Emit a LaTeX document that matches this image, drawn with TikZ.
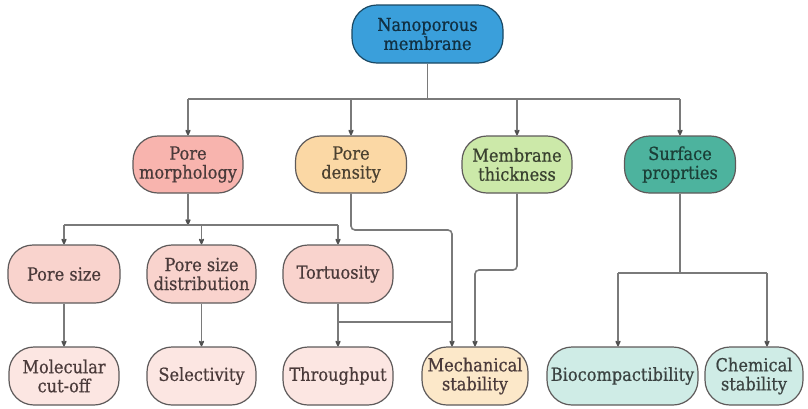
\documentclass[tikz,border=0pt]{standalone}
\usepackage{fontspec}
\setmainfont{DejaVu Serif Condensed}[FakeBold=0.6]
\usetikzlibrary{arrows.meta,calc}
\definecolor{cTop}{HTML}{3A9FDB}
\definecolor{cPM}{HTML}{F8B4AE}
\definecolor{cPD}{HTML}{FBD8A5}
\definecolor{cMT}{HTML}{CCE9A9}
\definecolor{cSP}{HTML}{4DB39E}
\definecolor{cL3}{HTML}{F9D3CD}
\definecolor{cL4}{HTML}{FCE6E2}
\definecolor{cMech}{HTML}{FCE8C9}
\definecolor{cBio}{HTML}{CFECE6}
\definecolor{bordc}{HTML}{5E5A5A}
\definecolor{linec}{HTML}{7A7A7A}
\definecolor{tipc}{HTML}{505050}
\definecolor{txt}{HTML}{4A3A3A}
\begin{document}
\begin{tikzpicture}[x=1pt,y=-1pt,
  box/.style={draw=bordc, line width=1.2pt, rounded corners=25pt, align=center,
    inner sep=0pt, font=\fontsize{18}{19}\selectfont, text=txt, minimum height=58pt},
  conn/.style={draw=linec, line width=1.6pt, rounded corners=4pt},
  arr/.style={conn, -{Stealth[length=8pt,width=7pt,round,color=tipc]}}]
\useasboundingbox (0,0) rectangle (808,408);
% level 1
\node[box, fill=cTop, draw=black!55!cTop, text=black!70!cTop, minimum width=151pt] (top) at (427.5,34) {Nanoporous\\membrane};
% level 2
\node[box, fill=cPM, minimum width=110pt, minimum height=57pt] (pm) at (188,164.5) {Pore\\morphology};
\node[box, fill=cPD, minimum width=111pt, minimum height=57pt, text=black!70!cPD] (pd) at (351,164.5) {Pore\\density};
\node[box, fill=cMT, minimum width=110pt, minimum height=57pt, text=black!72!cMT] (mt) at (517,164.5) {Membrane\\thickness};
\node[box, fill=cSP, minimum width=111pt, minimum height=57pt, text=black!65!cSP] (sp) at (680,164.5) {Surface\\proprties};
% level 3
\node[box, fill=cL3, minimum width=112pt] (ps) at (64,274) {Pore size};
\node[box, fill=cL3, minimum width=109pt] (psd) at (201.5,274) {Pore size\\distribution};
\node[box, fill=cL3, minimum width=110pt] (tor) at (338,274) {Tortuosity};
% level 4
\node[box, fill=cL4, minimum width=110pt] (mc) at (64,376) {Molecular\\cut-off};
\node[box, fill=cL4, minimum width=109pt] (sel) at (201.5,376) {Selectivity};
\node[box, fill=cL4, minimum width=110pt] (thr) at (338,376) {Throughput};
\node[box, fill=cMech, minimum width=106pt] (mech) at (475,376) {Mechanical\\stability};
\node[box, fill=cBio, minimum width=151pt, text=black!72!cBio] (bio) at (622.5,376) {Biocompactibility};
\node[box, fill=cBio, minimum width=98pt, text=black!72!cBio] (chem) at (754,376) {Chemical\\stability};
% connectors: level 1 -> level 2
\coordinate (b1) at (top.south |- 0,99);
\draw[conn] (top.south) -- (b1);
\draw[conn] (pm.north |- b1) -- (sp.north |- b1);
\draw[arr] (pm.north |- b1) -- (pm.north);
\draw[arr] (pd.north |- b1) -- (pd.north);
\draw[arr] (mt.north |- b1) -- (mt.north);
\draw[arr] (sp.north |- b1) -- (sp.north);
% pore morphology -> level 3
\coordinate (b2) at (pm.south |- 0,225);
\draw[arr] (pm.south) -- (b2);
\draw[conn] (ps.north |- b2) -- (tor.north |- b2);
\draw[arr] (ps.north |- b2) -- (ps.north);
\draw[arr] (psd.north |- b2) -- (psd.north);
\draw[arr] (tor.north |- b2) -- (tor.north);
% level 3 -> level 4
\draw[arr] (ps.south) -- (mc.north);
\draw[arr] (psd.south) -- (sel.north);
\draw[arr] (tor.south) -- (thr.north);
% pore density -> mechanical stability
\coordinate (m1) at ([xshift=-23pt]mech.north);
\draw[arr] (pd.south) -- (pd.south |- 0,230) -- (m1 |- 0,230) -- (m1);
\draw[conn] (tor.south |- 0,322) -- (m1 |- 0,322);
% membrane thickness -> mechanical stability
\draw[arr] (mt.south) -- (mt.south |- 0,270) -- (mech.north |- 0,270) -- (mech.north);
% surface properties -> bio, chem
\coordinate (b3) at (sp.south |- 0,273);
\coordinate (bi) at ([xshift=-4.5pt]bio.north);
\coordinate (ch) at ([xshift=13pt]chem.north);
\draw[conn] (sp.south) -- (b3);
\draw[conn] (bi |- b3) -- (ch |- b3);
\draw[arr] (bi |- b3) -- (bi);
\draw[arr] (ch |- b3) -- (ch);
\end{tikzpicture}
\end{document}
